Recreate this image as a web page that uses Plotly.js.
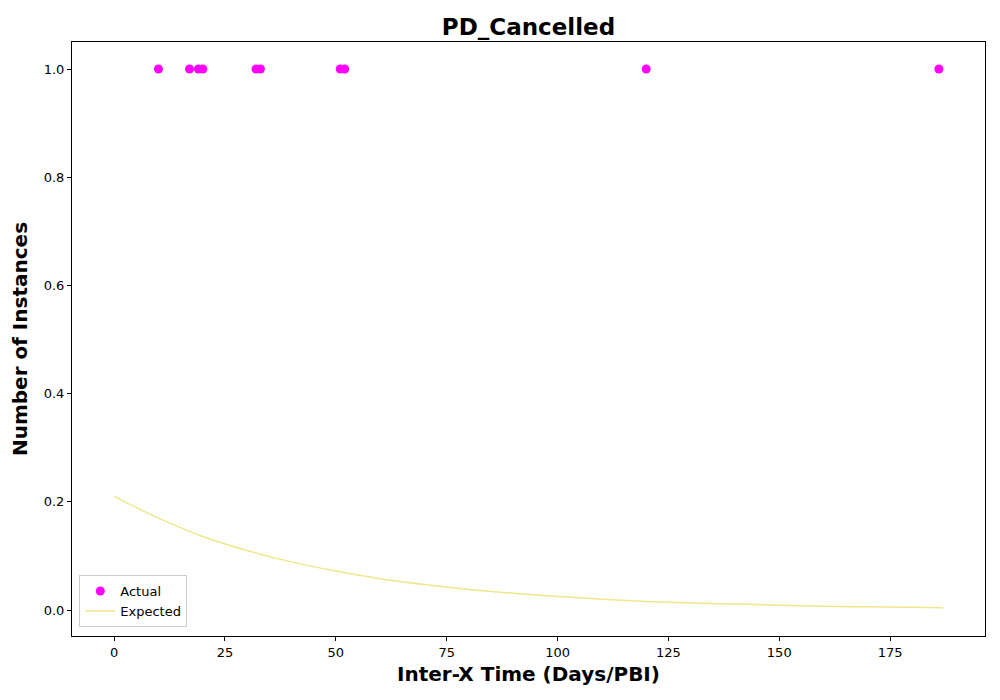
<!DOCTYPE html>
<html>
<head>
<meta charset="utf-8">
<script src="https://cdn.plot.ly/plotly-3.0.1.min.js"></script>
<style>body{margin:0;background:#fff}</style>
</head>
<body>
<div id="chart" style="width:1000px;height:700px"></div>
<script>
// Actual instances (inter-X times)
const actualX = [10, 17, 19, 20, 32, 33, 51, 52, 120, 186];
const actualY = [1, 1, 1, 1, 1, 1, 1, 1, 1, 1];

// Expected curve
const expectedX = [0, 10, 20, 30, 40, 50, 60, 70, 80, 90, 100, 110, 120, 130, 140, 150, 160, 170, 180, 187];
const expectedY = [0.21, 0.170, 0.136, 0.110, 0.089, 0.072, 0.058, 0.047, 0.038, 0.031,
	0.025, 0.020, 0.016, 0.013, 0.011, 0.009, 0.007, 0.006, 0.005, 0.004];

const font = 'DejaVu Sans, sans-serif';

const traceActual = {
	x: actualX,
	y: actualY,
	type: 'scatter',
	mode: 'markers',
	name: 'Actual',
	marker: { color: '#ff00ff', size: 9 },
};

const traceExpected = {
	x: expectedX,
	y: expectedY,
	type: 'scatter',
	mode: 'lines',
	name: 'Expected',
	line: { color: '#f0e68c', width: 1.5, shape: 'spline' },
};

const axisCommon = {
	showgrid: false,
	zeroline: false,
	showline: true,
	mirror: true,
	linecolor: '#000',
	linewidth: 1,
	ticks: 'outside',
	ticklen: 4,
	tickcolor: '#000',
	tickfont: { family: font, size: 13, color: '#000' },
};

const layout = {
	width: 1000,
	height: 700,
	margin: { l: 72, r: 15, t: 42, b: 64 },
	paper_bgcolor: '#fff',
	plot_bgcolor: '#fff',
	title: {
		text: '<b>PD_Cancelled</b>',
		font: { family: font, size: 23, color: '#000' },
		x: 0.5285,
		xanchor: 'center',
		y: 0.962,
		yanchor: 'middle',
	},
	xaxis: {
		...axisCommon,
		range: [-9.5, 196.4],
		tickvals: [0, 25, 50, 75, 100, 125, 150, 175],
		title: { text: '<b>Inter-X Time (Days/PBI)</b>', font: { family: font, size: 20, color: '#000' }, standoff: 8 },
	},
	yaxis: {
		...axisCommon,
		range: [-0.048, 1.05],
		tickvals: [0, 0.2, 0.4, 0.6, 0.8, 1.0],
		ticktext: ['0.0', '0.2', '0.4', '0.6', '0.8', '1.0'],
		title: { text: '<b>Number of Instances</b>', font: { family: font, size: 20, color: '#000' }, standoff: 10 },
	},
	showlegend: true,
	legend: {
		x: 0.008,
		y: 0.015,
		xanchor: 'left',
		yanchor: 'bottom',
		bgcolor: 'rgba(255,255,255,0.8)',
		bordercolor: '#ccc',
		borderwidth: 1,
		font: { family: font, size: 13, color: '#000' },
	},
};

Plotly.newPlot('chart', [traceActual, traceExpected], layout, { displayModeBar: false });
</script>
</body>
</html>
